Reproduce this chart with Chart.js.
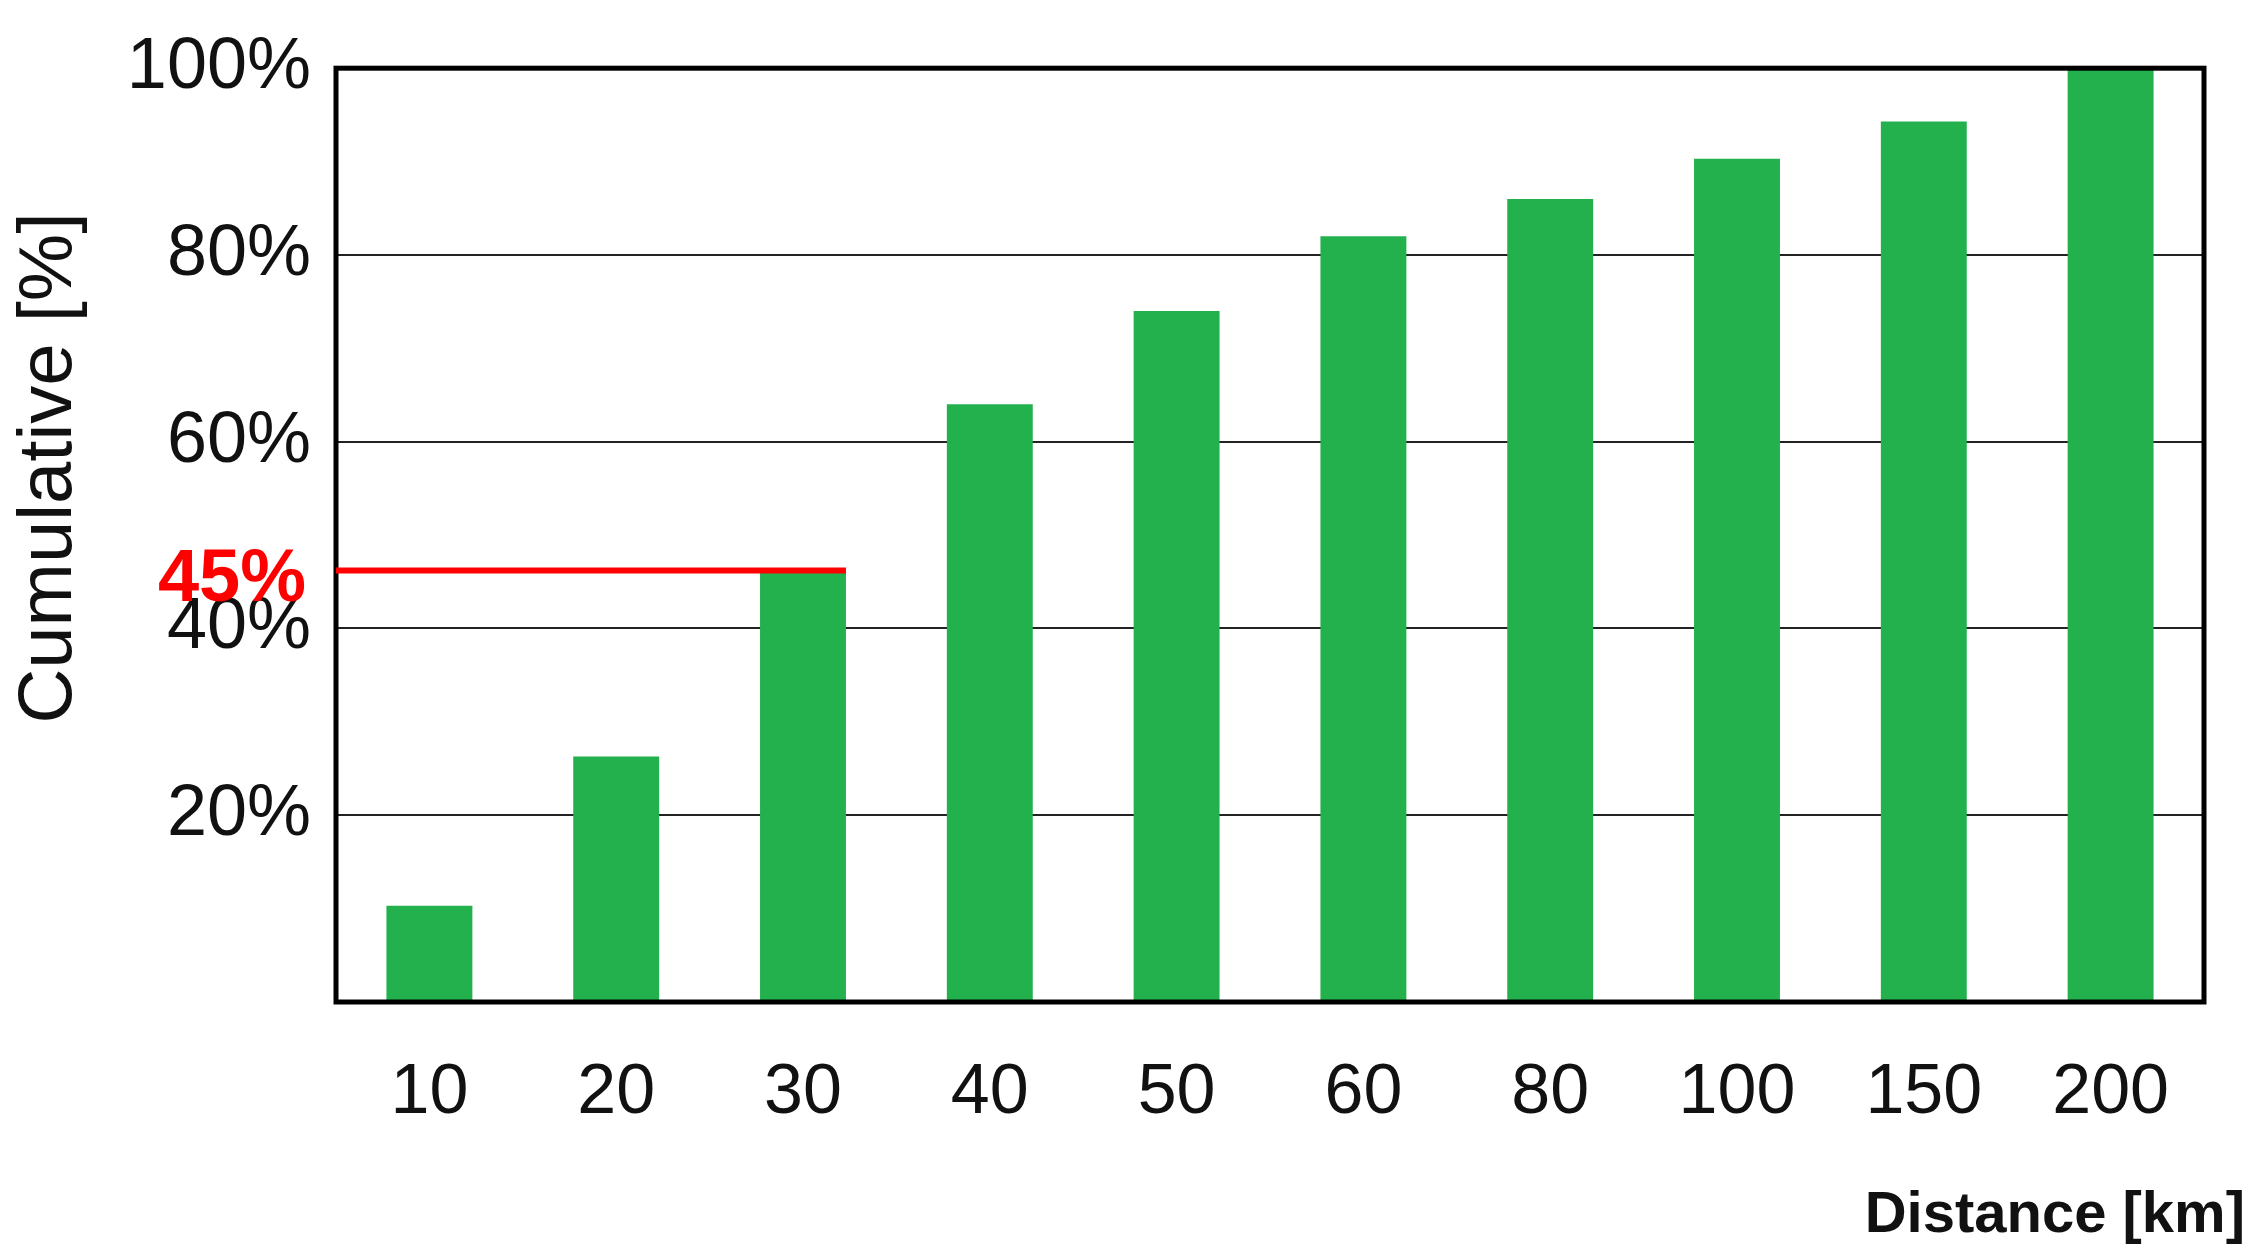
<!DOCTYPE html>
<html>
<head>
<meta charset="utf-8">
<script src="https://cdn.jsdelivr.net/npm/chart.js@4/dist/chart.umd.min.js"></script>
<style>
  body { margin: 0; background: #fff; }
  canvas { display: block; }
</style>
</head>
<body>
<canvas id="chart" width="2250" height="1260"></canvas>
<script>
const distances = ["10", "20", "30", "40", "50", "60", "80", "100", "150", "200"];
const cumulative = [10.3, 26.3, 46, 64, 74, 82, 86, 90.3, 94.3, 100];
const yTicks = [20, 40, 60, 80, 100];
const markValue = 46.2;
const markLabel = "45%";
const markEndIndex = 2;

const overlay = {
  id: "overlay",
  afterDraw(chart) {
    const ctx = chart.ctx;
    const a = chart.chartArea;
    const y = chart.scales.y;
    ctx.save();
    ctx.strokeStyle = "#000";
    ctx.lineWidth = 5;
    ctx.strokeRect(a.left, a.top, a.right - a.left, a.bottom - a.top);
    const meta = chart.getDatasetMeta(0).data[markEndIndex];
    const yy = y.getPixelForValue(markValue);
    ctx.strokeStyle = "#ff0000";
    ctx.lineWidth = 6;
    ctx.beginPath();
    ctx.moveTo(a.left, yy);
    ctx.lineTo(meta.x + meta.width / 2, yy);
    ctx.stroke();
    ctx.fillStyle = "#ff0000";
    ctx.font = "bold 74px Arial, 'Liberation Sans', sans-serif";
    ctx.textAlign = "right";
    ctx.textBaseline = "middle";
    ctx.fillText(markLabel, a.left - 30, yy + 10);
    ctx.fillStyle = "#111";
    ctx.font = "76px Arial, 'Liberation Sans', sans-serif";
    ctx.translate(50, 468);
    ctx.rotate(-Math.PI / 2);
    ctx.textAlign = "center";
    ctx.fillText("Cumulative [%]", 0, 0);
    ctx.restore();
    ctx.save();
    ctx.fillStyle = "#111";
    ctx.font = "bold 58px Arial, 'Liberation Sans', sans-serif";
    ctx.textAlign = "right";
    ctx.textBaseline = "middle";
    ctx.fillText("Distance [km]", 2245, 1216);
    ctx.restore();
  }
};

new Chart(document.getElementById("chart"), {
  type: "bar",
  data: {
    labels: distances,
    datasets: [{ data: cumulative, backgroundColor: "#22b14c", barPercentage: 0.92, categoryPercentage: 0.5 }]
  },
  options: {
    responsive: false,
    animation: false,
    layout: { padding: { top: -18, right: 46, left: 0, bottom: 0 } },
    plugins: { legend: { display: false }, tooltip: { enabled: false } },
    scales: {
      x: {
        grid: { display: false },
        border: { display: false },
        ticks: { color: "#111", font: { size: 70, family: "Arial, 'Liberation Sans', sans-serif" }, padding: 42 },
        afterFit: s => { s.height = 258; }
      },
      y: {
        min: 0, max: 100,
        afterBuildTicks: s => { s.ticks = yTicks.map(v => ({ value: v })); },
        grid: { color: "#222", lineWidth: 2, drawTicks: false },
        border: { display: false },
        ticks: { color: "#111", padding: 25, font: { size: 72, family: "Arial, 'Liberation Sans', sans-serif" }, callback: v => v + "%" },
        afterFit: s => { s.width = 336; }
      }
    }
  },
  plugins: [overlay]
});
</script>
</body>
</html>
